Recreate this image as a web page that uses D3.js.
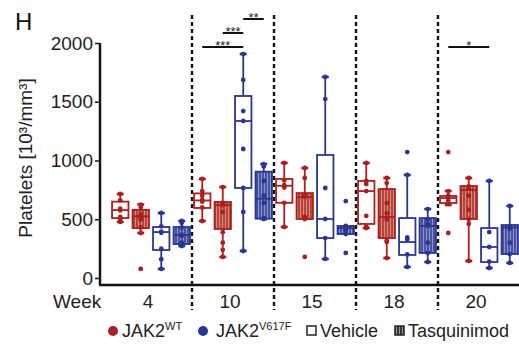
<!DOCTYPE html>
<html>
<head>
<meta charset="utf-8">
<script src="https://cdn.jsdelivr.net/npm/d3@7"></script>
<style>
  body { margin: 0; background: #fff; }
  svg { font-family: "Liberation Sans", Arial, sans-serif; }
</style>
</head>
<body>
<div id="chart"></div>
<script>
// weeks on the x axis
var weeks = ["4", "10", "15", "18", "20"];
// box order inside each week
var groups = ["WT-Vehicle", "WT-Tasquinimod", "V617F-Vehicle", "V617F-Tasquinimod"];
var yTicks = [0, 500, 1000, 1500, 2000];

// [whisker low, q1, median, q3, whisker high] per group
var week4Boxes = [[477, 510, 578, 650, 715], [383, 425, 525, 580, 625], [77, 238, 391, 434, 553], [272, 289, 366, 434, 485]];
var week10Boxes = [[485, 596, 660, 720, 843], [179, 417, 620, 647, 774], [230, 766, 1336, 1549, 1906], [502, 505, 675, 905, 970]];
var week15Boxes = [[434, 640, 785, 843, 979], [502, 502, 689, 723, 936], [162, 340, 502, 1047, 1711], [374, 374, 425, 443, 443]];
var week18Boxes = [[425, 460, 740, 826, 979], [170, 340, 519, 757, 851], [94, 196, 306, 510, 877], [136, 213, 443, 510, 587]];
var week20Boxes = [[621, 638, 681, 698, 740], [145, 502, 749, 783, 851], [85, 136, 264, 425, 826], [128, 204, 430, 451, 613]];

// individual mice
var week4Points = [[715, 660, 590, 575, 520, 490, 477], [625, 600, 545, 520, 500, 430, 383, 77], [553, 440, 395, 385, 250, 160, 77], [485, 470, 430, 370, 360, 300, 272]];
var week10Points = [[843, 740, 700, 665, 650, 600, 485], [774, 640, 620, 560, 390, 300, 240, 179], [1906, 1685, 1421, 1336, 1098, 766, 562, 230], [970, 950, 826, 700, 640, 510, 502]];
var week15Points = [[979, 830, 790, 770, 640, 434], [936, 851, 700, 690, 520, 502, 179], [1711, 1523, 766, 502, 340, 162], [655, 443, 430, 420, 400, 374, 213]];
var week18Points = [[979, 826, 800, 740, 528, 440, 425], [851, 808, 638, 550, 500, 320, 306, 170], [1072, 877, 345, 330, 200, 94], [587, 500, 460, 443, 300, 213, 136]];
var week20Points = [[1072, 740, 700, 680, 660, 630, 383], [851, 780, 760, 700, 579, 500, 460, 145], [826, 391, 264, 140, 85], [613, 440, 420, 300, 204, 128]];

// significance bars: week, from group, to group, label, level
var sigWeeks = ["10", "10", "10", "20"];
var sigFrom = [0, 1, 2, 0];
var sigTo = [2, 2, 3, 2];
var sigLabels = ["***", "***", "**", "*"];
var sigLevels = [0, 1, 2, 0];

var allBoxes = [week4Boxes, week10Boxes, week15Boxes, week18Boxes, week20Boxes];
var allPoints = [week4Points, week10Points, week15Points, week18Points, week20Points];

var width = 519, height = 351;
var red = "#a8201f", blue = "#2c3590";

var svg = d3.select("#chart").append("svg")
  .attr("width", width)
  .attr("height", height);

// striped fills for tasquinimod boxes
var defs = svg.append("defs");
function stripes(id, base, light) {
  var p = defs.append("pattern")
    .attr("id", id)
    .attr("width", 3).attr("height", 4)
    .attr("patternUnits", "userSpaceOnUse");
  p.append("rect").attr("width", 3).attr("height", 4).attr("fill", base);
  p.append("rect").attr("width", 1).attr("height", 4).attr("fill", light);
}
stripes("str-red", "#b5453b", "#d68a80");
stripes("str-blue", "#4953a3", "#8d94c8");
stripes("str-gray", "#333", "#999");

var x = d3.scaleBand().domain(weeks).range([110, 520]);
var inner = d3.scaleBand().domain(d3.range(groups.length)).range([0, x.bandwidth()]);
var boxW = inner.bandwidth() * 0.8;
var y = d3.scaleLinear().domain([0, 2000]).range([278, 43]);

function cx(w, g) { return x(w) + inner(g) + inner.bandwidth() / 2; }
function colorOf(g) { return g < 2 ? red : blue; }
function fillOf(g) {
  if (g == 1) return "url(#str-red)";
  if (g == 3) return "url(#str-blue)";
  return "#fff";
}

// dashed separators
svg.selectAll(".sep")
  .data(weeks.slice(1))
  .enter().append("line")
  .attr("x1", function (d) { return x(d); })
  .attr("x2", function (d) { return x(d); })
  .attr("y1", 15).attr("y2", 310)
  .style("stroke", "#111")
  .style("stroke-width", 2.4)
  .style("stroke-dasharray", "4 3");

// y axis
var yAxis = svg.append("g")
  .attr("transform", "translate(100,0)")
  .call(d3.axisLeft(y).tickValues(yTicks).tickFormat(d3.format("d"))
    .tickSize(5).tickPadding(2).tickSizeOuter(0));
yAxis.select(".domain").remove();
yAxis.selectAll(".tick line").style("stroke", "#111").style("stroke-width", 1.5);
yAxis.selectAll(".tick text").style("font-size", "19px").style("fill", "#222")
  .style("font-family", "'Liberation Sans', Arial, sans-serif");

// axis frame
svg.append("line")
  .attr("x1", 100).attr("x2", 100).attr("y1", y(2000)).attr("y2", 285)
  .style("stroke", "#111").style("stroke-width", 2.5);
svg.append("line")
  .attr("x1", 99).attr("x2", width).attr("y1", 285).attr("y2", 285)
  .style("stroke", "#111").style("stroke-width", 2.5);

// boxes
weeks.forEach(function (w, wi) {
  var g = svg.append("g");
  allBoxes[wi].forEach(function (s, gi) {
    var c = cx(w, gi), col = colorOf(gi);
    // whiskers
    [[s[0], s[1]], [s[3], s[4]]].forEach(function (seg) {
      if (seg[0] == seg[1]) return;
      g.append("line")
        .attr("x1", c).attr("x2", c)
        .attr("y1", y(seg[0])).attr("y2", y(seg[1]))
        .style("stroke", col).style("stroke-width", 1.8);
      var end = seg[0] == s[0] ? seg[0] : seg[1];
      g.append("line")
        .attr("x1", c - 3.5).attr("x2", c + 3.5)
        .attr("y1", y(end)).attr("y2", y(end))
        .style("stroke", col).style("stroke-width", 2.5);
    });
    g.append("rect")
      .attr("x", c - boxW / 2)
      .attr("y", y(s[3]))
      .attr("width", boxW)
      .attr("height", Math.max(y(s[1]) - y(s[3]), 1))
      .attr("fill", fillOf(gi))
      .style("stroke", col).style("stroke-width", 1.8);
    g.append("line")
      .attr("x1", c - boxW / 2).attr("x2", c + boxW / 2)
      .attr("y1", y(s[2])).attr("y2", y(s[2]))
      .style("stroke", col).style("stroke-width", 1.8);
    g.selectAll(".pt")
      .data(allPoints[wi][gi])
      .enter().append("circle")
      .attr("cx", c)
      .attr("cy", function (d) { return y(d); })
      .attr("r", 2.4)
      .attr("fill", col);
  });
});

// significance bars
var sigY = [47, 33, 19];
sigLabels.forEach(function (lab, i) {
  var x1 = cx(sigWeeks[i], sigFrom[i]), x2 = cx(sigWeeks[i], sigTo[i]);
  var ly = sigY[sigLevels[i]];
  svg.append("line")
    .attr("x1", x1).attr("x2", x2).attr("y1", ly).attr("y2", ly)
    .style("stroke", "#111").style("stroke-width", 2);
  svg.append("text")
    .attr("x", (x1 + x2) / 2).attr("y", ly + 3)
    .attr("text-anchor", "middle")
    .style("font-size", "13px").style("fill", "#222")
    .text(lab);
});

// week labels
svg.append("text").attr("x", 53).attr("y", 308)
  .style("font-size", "19px").style("fill", "#222").text("Week");
svg.selectAll(".wk")
  .data(weeks)
  .enter().append("text")
  .attr("x", function (d) { return x(d) + x.bandwidth() / 2 - 3; })
  .attr("y", 308)
  .attr("text-anchor", "middle")
  .style("font-size", "19px").style("fill", "#222")
  .text(function (d) { return d; });

// y title
var yt = svg.append("text")
  .attr("transform", "translate(32,158) rotate(-90)")
  .attr("text-anchor", "middle")
  .style("font-size", "19px").style("fill", "#222");
yt.append("tspan").text("Platelets [10³/mm³]");

// panel letter
svg.append("text").attr("x", 15).attr("y", 30)
  .style("font-size", "24px").style("fill", "#111").text("H");

// legend
var lg = svg.append("g").style("font-size", "18px").style("fill", "#222");
lg.append("circle").attr("cx", 113).attr("cy", 331).attr("r", 5).attr("fill", red);
var t1 = lg.append("text").attr("x", 122).attr("y", 337).text("JAK2");
t1.append("tspan").attr("dy", -7).style("font-size", "11px").text("WT");
lg.append("circle").attr("cx", 203).attr("cy", 331).attr("r", 5).attr("fill", blue);
var t2 = lg.append("text").attr("x", 216).attr("y", 337).text("JAK2");
t2.append("tspan").attr("dy", -7).style("font-size", "11px").text("V617F");
lg.append("rect").attr("x", 307).attr("y", 326).attr("width", 9).attr("height", 9)
  .attr("fill", "#fff").style("stroke", "#222").style("stroke-width", 1.5);
lg.append("text").attr("x", 320).attr("y", 337).text("Vehicle");
lg.append("rect").attr("x", 395).attr("y", 326).attr("width", 9).attr("height", 9)
  .attr("fill", "url(#str-gray)").style("stroke", "#222").style("stroke-width", 1.5);
lg.append("text").attr("x", 408).attr("y", 337).text("Tasquinimod");
</script>
</body>
</html>
